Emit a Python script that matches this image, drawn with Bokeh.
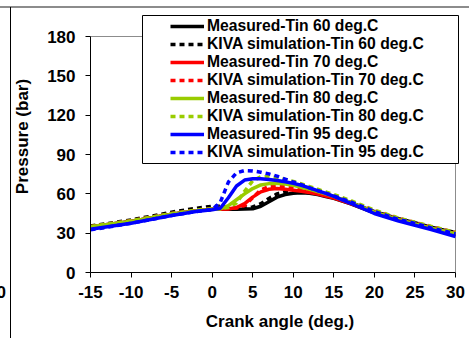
from bokeh.plotting import figure
from bokeh.models import (Range1d, FixedTicker, Legend, LegendItem, BoxAnnotation, InlineStyleSheet)
from bokeh.embed import file_html
from bokeh.resources import INLINE

# ---- data ----
crank = [-15, -10, -5, -2, 0, 1, 2, 3, 4, 5, 6, 7, 8, 9, 10, 11, 12, 13, 14, 15, 17, 20, 23, 25, 27, 30]

meas_60 = [35, 39, 44.5, 47, 48.2, 48.3, 48.3, 48.3, 48.4, 48.6, 50.5, 54, 57.5, 59.5, 60.5, 60.8, 60.5, 59.5, 58, 56.5, 52.5, 45.5, 40, 37, 33.5, 29]
kiva_60 = [35.5, 40, 46, 49, 50.5, 50.5, 49.8, 49.3, 49.3, 50, 52.5, 56.5, 60, 61.5, 62, 62, 61.5, 60.5, 59, 57.5, 53.5, 46.5, 41, 38, 34.5, 30.5]
meas_70 = [35, 39, 44.5, 47, 48.2, 48.3, 48.5, 49.5, 52.5, 57.5, 61.5, 63.5, 64, 63.5, 62.8, 62, 61, 59.8, 58.3, 56.8, 52.8, 45.8, 40.2, 37, 33.8, 29.5]
kiva_70 = [35, 39.5, 45, 47.5, 48.8, 48.8, 48.8, 49.2, 51, 57, 63, 65.5, 66, 65.5, 64.8, 63.8, 62.5, 61, 59.5, 58, 54, 47, 41.2, 38, 35, 30.5]
meas_80 = [35, 39, 44.5, 47, 48.2, 48.5, 51, 55.5, 60, 64, 66.8, 67.8, 68, 67.5, 66.5, 65, 63.5, 61.8, 60, 58, 53.5, 46, 40.3, 37, 33.8, 29.5]
kiva_80 = [35, 39.5, 45, 47.5, 48.8, 48.8, 49.5, 53, 62, 70, 73, 73.2, 72.5, 71, 69.5, 67.5, 65.5, 63.5, 61.5, 59.5, 55, 47.5, 41.5, 38.3, 35.2, 30.5]
meas_95 = [33, 37.5, 43.5, 46.5, 47.8, 49, 57, 66, 70.5, 71.5, 71.5, 71, 70.2, 69.2, 68, 66.5, 64.5, 62.5, 60.3, 58, 53, 45, 39.3, 36, 32.8, 27.5]
kiva_95 = [32.5, 37.5, 43.5, 46.5, 48, 53.5, 69, 76, 77.8, 77.5, 76.5, 75.2, 73.5, 71.2, 69, 67, 64.5, 62.5, 60.5, 58.5, 54, 46.5, 40.5, 37.5, 34, 29.5]

labels = ["Measured-Tin 60 deg.C", "KIVA simulation-Tin 60 deg.C",
          "Measured-Tin 70 deg.C", "KIVA simulation-Tin 70 deg.C",
          "Measured-Tin 80 deg.C", "KIVA simulation-Tin 80 deg.C",
          "Measured-Tin 95 deg.C", "KIVA simulation-Tin 95 deg.C"]
series = [meas_60, kiva_60, meas_70, kiva_70, meas_80, kiva_80, meas_95, kiva_95]
colors = ["#000000", "#000000", "#FF0000", "#FF0000", "#99CC00", "#99CC00", "#0000FF", "#0000FF"]
dashes = ["solid", "5 4", "solid", "5 4", "solid", "5 4", "solid", "5 4"]

x_ticks = [-15, -10, -5, 0, 5, 10, 15, 20, 25, 30]
x_tick_labels = ["-15", "-10", "-5", "0", "5", "10", "15", "20", "25", "30"]
y_ticks = [0, 30, 60, 90, 120, 150, 180]
x_min, x_max = -15, 30
y_min, y_max = 0, 180

FONT = "Liberation Sans"

# frame: x from 90px to 469px (x_max at 455px), y from 0px to 272px (y_max at 36px)
x_end = x_min + (x_max - x_min) * 379 / 365
y_end = y_max * 272 / 236

css = """
:host { position: relative; }
:host::before { content: ""; position: absolute; left: 0; top: 6px; width: 469px; height: 2px;
  background: #8c8c8c; z-index: 10; pointer-events: none; }
:host::after { content: "0"; position: absolute; left: -20px; top: 7px; width: 31px; height: 331px;
  box-sizing: border-box; border-right: 1px solid #000; text-align: right; padding-right: 4px;
  padding-top: 277px; font: bold 17px 'Liberation Sans'; line-height: 17px; color: #000;
  z-index: 10; pointer-events: none; }
"""

p = figure(width=469, height=338, output_backend="svg", toolbar_location=None,
           x_range=Range1d(x_min, x_end), y_range=Range1d(y_min, y_end),
           min_border_left=90, min_border_right=0, min_border_top=0, min_border_bottom=66)
p.stylesheets = [InlineStyleSheet(css=css)]
p.background_fill_color = "white"
p.border_fill_color = "white"
p.outline_line_color = None
p.grid.visible = False

for ax, ticks in ((p.xaxis[0], x_ticks), (p.yaxis[0], y_ticks)):
    ax.ticker = FixedTicker(ticks=ticks)
    ax.minor_tick_line_color = None
    ax.major_tick_in = 0
    ax.major_tick_out = 5
    ax.axis_line_color = "black"
    ax.major_tick_line_color = "black"
    ax.major_label_text_font = FONT
    ax.major_label_text_font_style = "bold"
    ax.major_label_text_font_size = "17px"
    ax.major_label_text_color = "black"
    ax.axis_label_text_font = FONT
    ax.axis_label_text_font_style = "bold"
    ax.axis_label_text_font_size = "17px"
    ax.axis_label_text_color = "black"

p.xaxis.bounds = (x_min, x_max)
p.yaxis.bounds = (y_min, y_max)
p.xaxis.major_label_overrides = dict(zip(x_ticks, x_tick_labels))
p.xaxis.axis_label = "Crank angle (deg.)"
p.yaxis.axis_label = "Pressure (bar)"
p.xaxis.major_label_standoff = 8
p.yaxis.major_label_standoff = 10
p.xaxis.axis_label_standoff = 11
p.yaxis.axis_label_standoff = 12

# gray plot-area border (top and right)
p.segment(x0=[x_min, x_max], y0=[y_max, y_min], x1=[x_max, x_max], y1=[y_max, y_max],
          line_color="#8c8c8c", line_width=1)

renderers = []
for ys, c, d in zip(series, colors, dashes):
    r = p.line(crank, ys, line_color=c, line_width=3.5, line_dash=d)
    renderers.append(r)

# legend frame (screen units are relative to the plot frame's bottom-left)
legend_box = BoxAnnotation(left=52, right=368, bottom=109, top=257,
                           left_units="screen", right_units="screen",
                           bottom_units="screen", top_units="screen",
                           fill_color="white", fill_alpha=1.0,
                           line_color="black", line_width=1, line_alpha=1.0)
p.add_layout(legend_box)

items = [LegendItem(label=l, renderers=[r]) for l, r in zip(labels, renderers)]
legend = Legend(items=items, location=(80, 111), padding=0, margin=0, spacing=0,
                glyph_width=34, glyph_height=18, label_height=18, label_standoff=3,
                label_text_font=FONT, label_text_font_style="bold",
                label_text_font_size="15.7px", label_text_color="black",
                border_line_alpha=0, background_fill_alpha=0)
p.add_layout(legend)

open("out.html", "w").write(file_html(p, INLINE))
